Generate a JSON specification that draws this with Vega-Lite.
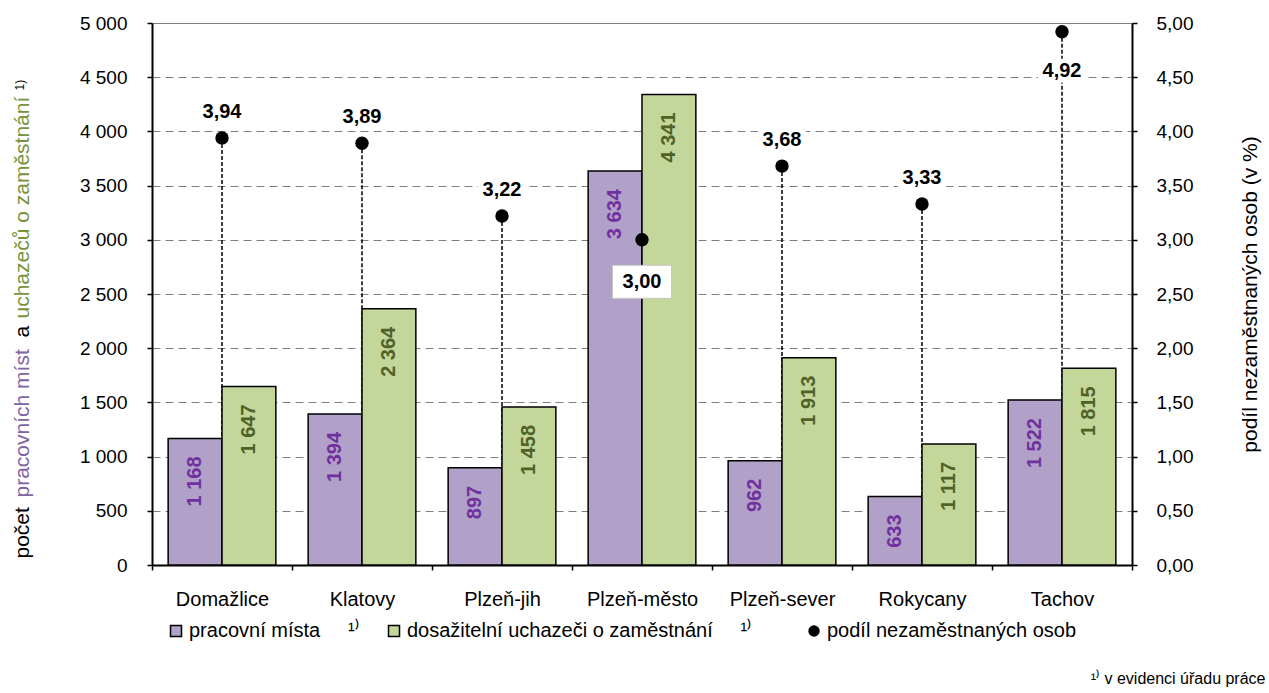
{
  "$schema": "https://vega.github.io/schema/vega-lite/v6.json",
  "width": 980,
  "height": 542,
  "autosize": {"type": "none"},
  "padding": {"left": 152, "top": 23, "right": 137, "bottom": 128},
  "background": "white",
  "config": {
    "locale": {"number": {"decimal": ",", "thousands": " ", "grouping": [3], "currency": ["", " Kč"]}},
    "font": "Liberation Sans",
    "view": {"stroke": null},
    "axis": {"labelFont": "Liberation Sans", "titleFont": "Liberation Sans"},
    "legend": {"labelFont": "Liberation Sans"},
    "text": {"font": "Liberation Sans"}
  },
  "datasets": {
    "bars": [
      {"okres": "Domažlice", "serie": "pracovní místa", "hodnota": 1168},
      {"okres": "Domažlice", "serie": "dosažitelní uchazeči o zaměstnání", "hodnota": 1647},
      {"okres": "Klatovy", "serie": "pracovní místa", "hodnota": 1394},
      {"okres": "Klatovy", "serie": "dosažitelní uchazeči o zaměstnání", "hodnota": 2364},
      {"okres": "Plzeň-jih", "serie": "pracovní místa", "hodnota": 897},
      {"okres": "Plzeň-jih", "serie": "dosažitelní uchazeči o zaměstnání", "hodnota": 1458},
      {"okres": "Plzeň-město", "serie": "pracovní místa", "hodnota": 3634},
      {"okres": "Plzeň-město", "serie": "dosažitelní uchazeči o zaměstnání", "hodnota": 4341},
      {"okres": "Plzeň-sever", "serie": "pracovní místa", "hodnota": 962},
      {"okres": "Plzeň-sever", "serie": "dosažitelní uchazeči o zaměstnání", "hodnota": 1913},
      {"okres": "Rokycany", "serie": "pracovní místa", "hodnota": 633},
      {"okres": "Rokycany", "serie": "dosažitelní uchazeči o zaměstnání", "hodnota": 1117},
      {"okres": "Tachov", "serie": "pracovní místa", "hodnota": 1522},
      {"okres": "Tachov", "serie": "dosažitelní uchazeči o zaměstnání", "hodnota": 1815}
    ],
    "rates": [
      {"okres": "Domažlice", "podil": 3.94},
      {"okres": "Klatovy", "podil": 3.89},
      {"okres": "Plzeň-jih", "podil": 3.22},
      {"okres": "Plzeň-město", "podil": 3.00},
      {"okres": "Plzeň-sever", "podil": 3.68},
      {"okres": "Rokycany", "podil": 3.33},
      {"okres": "Tachov", "podil": 4.92}
    ]
  },
  "layer": [
    {
      "data": {"name": "rates"},
      "mark": {"type": "rule", "color": "black", "strokeDash": [4, 2], "strokeWidth": 1.5},
      "encoding": {
        "x": {
          "field": "okres", "type": "nominal",
          "scale": {"paddingInner": 0, "paddingOuter": 0},
          "axis": {
            "orient": "bottom",
            "title": "¹⁾ v evidenci úřadu práce",
            "titleX": 1113, "titleY": 113, "titleAlign": "right", "titleBaseline": "middle",
            "titleFontSize": 16, "titleFontWeight": "normal", "titleColor": "black",
            "labelAngle": 0, "labelFontSize": 20, "labelColor": "black", "labelPadding": 19,
            "domainColor": "black", "domainWidth": 2,
            "tickColor": "black", "tickWidth": 1.5, "tickSize": 5, "tickBand": "extent",
            "grid": false
          }
        },
        "y": {
          "field": "podil", "type": "quantitative",
          "scale": {"domain": [0, 5], "nice": false},
          "axis": {
            "orient": "right",
            "values": [0, 0.5, 1, 1.5, 2, 2.5, 3, 3.5, 4, 4.5, 5],
            "format": ".2f",
            "grid": false,
            "domainColor": "black", "domainWidth": 2,
            "tickColor": "black", "tickWidth": 1.5, "tickSize": 5,
            "labelPadding": 19, "labelFontSize": 19, "labelColor": "black",
            "labelFlush": false, "labelOverlap": false,
            "title": "podíl nezaměstnaných osob (v %)",
            "titleAngle": 270, "titleX": 124, "titleY": 271,
            "titleAlign": "center", "titleBaseline": "alphabetic",
            "titleFontSize": 21, "titleFontWeight": "normal", "titleColor": "black"
          }
        },
        "y2": {"datum": 0}
      }
    },
    {
      "data": {"name": "bars"},
      "mark": {"type": "bar", "stroke": "black", "strokeWidth": 1.5},
      "encoding": {
        "x": {"field": "okres", "type": "nominal"},
        "xOffset": {
          "field": "serie", "type": "nominal",
          "scale": {"domain": ["pracovní místa", "dosažitelní uchazeči o zaměstnání"], "paddingInner": 0, "paddingOuter": 0.3}
        },
        "y": {
          "field": "hodnota", "type": "quantitative",
          "scale": {"domain": [0, 5000], "nice": false},
          "axis": {
            "orient": "left",
            "values": [0, 500, 1000, 1500, 2000, 2500, 3000, 3500, 4000, 4500, 5000],
            "format": ",.0f",
            "grid": true, "gridColor": "#808080", "gridWidth": 1,
            "gridDash": {"condition": {"test": "datum.value === 5000", "value": []}, "value": [8, 5]},
            "domainColor": "black", "domainWidth": 2,
            "tickColor": "black", "tickWidth": 1.5, "tickSize": 5,
            "labelPadding": 20, "labelFontSize": 19, "labelColor": "black",
            "labelFlush": false, "labelOverlap": false,
            "title": "počet",
            "titleX": -124, "titleY": 535, "titleAngle": 270,
            "titleAlign": "left", "titleBaseline": "alphabetic",
            "titleFontSize": 21, "titleFontWeight": "normal", "titleColor": "black"
          }
        },
        "color": {
          "field": "serie", "type": "nominal",
          "scale": {"domain": ["pracovní místa", "dosažitelní uchazeči o zaměstnání"], "range": ["#B1A0C7", "#C4D79B"]},
          "legend": {
            "orient": "none", "legendX": 14, "legendY": 598, "direction": "horizontal",
            "title": null, "symbolType": "square", "symbolSize": 121,
            "symbolStrokeColor": "black", "symbolStrokeWidth": 1.5,
            "labelFontSize": 20, "labelColor": "black", "labelOffset": 3,
            "columnPadding": 24, "labelExpr": "datum.label + '\u00a0\u00a0\u00a0\u00a0\u00a0¹⁾'",
            "padding": 0, "labelLimit": 0
          }
        }
      }
    },
    {
      "data": {"name": "bars"},
      "mark": {"type": "text", "angle": 270, "align": "right", "baseline": "middle", "dx": -18, "fontSize": 20, "fontWeight": "bold"},
      "encoding": {
        "x": {"field": "okres", "type": "nominal"},
        "xOffset": {
          "field": "serie", "type": "nominal",
          "scale": {"domain": ["pracovní místa", "dosažitelní uchazeči o zaměstnání"], "paddingInner": 0, "paddingOuter": 0.3}
        },
        "y": {
          "field": "hodnota", "type": "quantitative",
          "scale": {"domain": [0, 5000], "nice": false},
          "axis": {
            "orient": "left", "labels": false, "ticks": false, "domain": false, "grid": false,
            "title": "pracovních míst",
            "titleX": -124, "titleY": 474, "titleAngle": 270,
            "titleAlign": "left", "titleBaseline": "alphabetic",
            "titleFontSize": 21, "titleFontWeight": "normal", "titleColor": "#8064A2"
          }
        },
        "text": {"field": "hodnota", "type": "quantitative", "format": ",.0f"},
        "color": {"condition": {"test": "datum.serie === 'pracovní místa'", "value": "#7030A0"}, "value": "#4F6228"}
      }
    },
    {
      "data": {"name": "rates"},
      "transform": [{"filter": "datum.okres !== 'Plzeň-město' && datum.okres !== 'Tachov'"}],
      "mark": {
        "type": "point", "filled": true, "size": 10000,
        "shape": "M -0.48 -0.76 L 0.48 -0.76 L 0.48 -0.28 L -0.48 -0.28 Z",
        "fill": "white", "stroke": null, "strokeWidth": 0, "opacity": 1
      },
      "encoding": {
        "x": {"field": "okres", "type": "nominal"},
        "y": {"field": "podil", "type": "quantitative", "scale": {"domain": [0, 5], "nice": false}, "axis": null}
      }
    },
    {
      "data": {"name": "rates"},
      "transform": [{"filter": "datum.okres === 'Tachov'"}],
      "mark": {
        "type": "point", "filled": true, "size": 10000,
        "shape": "M -0.48 0.54 L 0.48 0.54 L 0.48 1.02 L -0.48 1.02 Z",
        "fill": "white", "stroke": null, "strokeWidth": 0, "opacity": 1
      },
      "encoding": {
        "x": {"field": "okres", "type": "nominal"},
        "y": {"field": "podil", "type": "quantitative", "scale": {"domain": [0, 5], "nice": false}, "axis": null}
      }
    },
    {
      "data": {"name": "rates"},
      "transform": [{"filter": "datum.okres === 'Plzeň-město'"}],
      "mark": {
        "type": "point", "filled": true, "size": 10000,
        "shape": "M -0.59 0.51 L 0.59 0.51 L 0.59 1.17 L -0.59 1.17 Z",
        "fill": "white", "stroke": "#c8c8c8", "strokeWidth": 1, "opacity": 1
      },
      "encoding": {
        "x": {"field": "okres", "type": "nominal"},
        "y": {"field": "podil", "type": "quantitative", "scale": {"domain": [0, 5], "nice": false}, "axis": null}
      }
    },
    {
      "data": {"name": "rates"},
      "mark": {"type": "point", "filled": true, "size": 180, "color": "black", "opacity": 1},
      "encoding": {
        "x": {"field": "okres", "type": "nominal"},
        "y": {
          "field": "podil", "type": "quantitative",
          "scale": {"domain": [0, 5], "nice": false},
          "axis": {
            "orient": "left", "labels": false, "ticks": false, "domain": false, "grid": false,
            "title": "a",
            "titleX": -124, "titleY": 314, "titleAngle": 270,
            "titleAlign": "left", "titleBaseline": "alphabetic",
            "titleFontSize": 21, "titleFontWeight": "normal", "titleColor": "black"
          }
        },
        "shape": {
          "datum": "podíl nezaměstnaných osob", "type": "nominal",
          "scale": {"range": ["circle"]},
          "legend": {
            "orient": "none", "legendX": 652, "legendY": 598, "title": null,
            "symbolSize": 130, "symbolFillColor": "black", "symbolStrokeColor": "black",
            "labelFontSize": 20, "labelColor": "black", "labelOffset": 3,
            "padding": 0, "labelLimit": 0
          }
        }
      }
    },
    {
      "data": {"name": "rates"},
      "transform": [{"filter": "datum.okres !== 'Plzeň-město' && datum.okres !== 'Tachov'"}],
      "mark": {"type": "text", "dy": -26, "align": "center", "baseline": "middle", "fontSize": 20, "fontWeight": "bold", "color": "black"},
      "encoding": {
        "x": {"field": "okres", "type": "nominal"},
        "y": {
          "field": "podil", "type": "quantitative",
          "scale": {"domain": [0, 5], "nice": false},
          "axis": {
            "orient": "left", "labels": false, "ticks": false, "domain": false, "grid": false,
            "title": "uchazečů o zaměstnání",
            "titleX": -124, "titleY": 295, "titleAngle": 270,
            "titleAlign": "left", "titleBaseline": "alphabetic",
            "titleFontSize": 21, "titleFontWeight": "normal", "titleColor": "#77933C"
          }
        },
        "text": {"field": "podil", "type": "quantitative", "format": ".2f"}
      }
    },
    {
      "data": {"name": "rates"},
      "transform": [{"filter": "datum.okres === 'Tachov'"}],
      "mark": {"type": "text", "dy": 39, "align": "center", "baseline": "middle", "fontSize": 20, "fontWeight": "bold", "color": "black"},
      "encoding": {
        "x": {"field": "okres", "type": "nominal"},
        "y": {
          "field": "podil", "type": "quantitative",
          "scale": {"domain": [0, 5], "nice": false},
          "axis": {
            "orient": "left", "labels": false, "ticks": false, "domain": false, "grid": false,
            "title": "1)",
            "titleX": -129, "titleY": 67, "titleAngle": 270,
            "titleAlign": "left", "titleBaseline": "alphabetic",
            "titleFontSize": 12, "titleFontWeight": "normal", "titleColor": "black"
          }
        },
        "text": {"field": "podil", "type": "quantitative", "format": ".2f"}
      }
    },
    {
      "data": {"name": "rates"},
      "transform": [{"filter": "datum.okres === 'Plzeň-město'"}],
      "mark": {"type": "text", "dy": 42, "align": "center", "baseline": "middle", "fontSize": 20, "fontWeight": "bold", "color": "black"},
      "encoding": {
        "x": {"field": "okres", "type": "nominal"},
        "y": {"field": "podil", "type": "quantitative", "scale": {"domain": [0, 5], "nice": false}, "axis": null},
        "text": {"field": "podil", "type": "quantitative", "format": ".2f"}
      }
    }
  ],
  "resolve": {"scale": {"y": "independent"}, "axis": {"y": "independent"}}
}
